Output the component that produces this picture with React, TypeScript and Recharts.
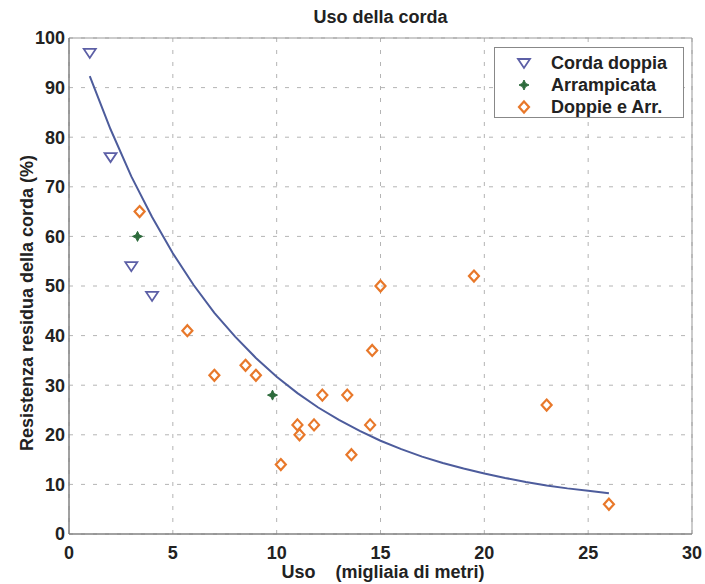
import {
  CartesianGrid,
  ComposedChart,
  Line,
  ReferenceArea,
  Scatter,
  XAxis,
  YAxis,
} from "recharts";

const xTicks = [0, 5, 10, 15, 20, 25, 30];
const yTicks = [0, 10, 20, 30, 40, 50, 60, 70, 80, 90, 100];

// Corda doppia
const doppiaX = [1, 2, 3, 4];
const doppiaY = [97, 76, 54, 48];

// Arrampicata
const arrX = [3.3, 9.8];
const arrY = [60, 28];

// Doppie e Arr.
const entrambiX = [3.4, 5.7, 7, 8.5, 9, 10.2, 11, 11.1, 11.8, 12.2, 13.4, 13.6, 14.5, 14.6, 15, 19.5, 23, 26];
const entrambiY = [65, 41, 32, 34, 32, 14, 22, 20, 22, 28, 28, 16, 22, 37, 50, 52, 26, 6];

// fitted curve
const curveX = [1, 2, 3, 4, 5, 6, 7, 8, 9, 10, 11, 12, 13, 14, 15, 16, 17, 18, 19, 20, 21, 22, 23, 24, 25, 26];
const curveY = [92.3, 81.6, 72.1, 63.9, 56.6, 50.2, 44.6, 39.8, 35.5, 31.7, 28.4, 25.5, 23.0, 20.8, 18.8, 17.1, 15.6, 14.3, 13.2, 12.2, 11.3, 10.5, 9.8, 9.2, 8.7, 8.2];

const zip = (xs: number[], ys: number[]) => xs.map((x, i) => ({ x, y: ys[i] }));

const BLUE = "#5c5fa6";
const GREEN = "#2d6b3c";
const ORANGE = "#e8782a";
const FONT = '"Liberation Sans", Arial, sans-serif';

const Triangle = ({ cx, cy }: any) => (
  <polygon
    points={`${cx - 6},${cy - 4} ${cx + 6},${cy - 4} ${cx},${cy + 5}`}
    fill="none"
    stroke={BLUE}
    strokeWidth={1.8}
  />
);

const Diamond = ({ cx, cy }: any) => (
  <polygon
    points={`${cx},${cy - 5.5} ${cx + 5},${cy} ${cx},${cy + 5.5} ${cx - 5},${cy}`}
    fill="none"
    stroke={ORANGE}
    strokeWidth={2.2}
  />
);

const Star = ({ cx, cy }: any) => (
  <g>
    <polygon
      points={`${cx},${cy - 5} ${cx + 1.6},${cy - 1.6} ${cx + 5},${cy} ${cx + 1.6},${cy + 1.6} ${cx},${cy + 5} ${cx - 1.6},${cy + 1.6} ${cx - 5},${cy} ${cx - 1.6},${cy - 1.6}`}
      fill={GREEN}
      stroke={GREEN}
      strokeWidth={1}
    />
  </g>
);

const tickStyle = { fontSize: 18, fontWeight: 700, fill: "#222", fontFamily: FONT };

export default function App() {
  const legendRows = [
    { name: "Corda doppia", Shape: Triangle },
    { name: "Arrampicata", Shape: Star },
    { name: "Doppie e Arr.", Shape: Diamond },
  ];

  return (
    <div style={{ position: "absolute", left: 0, top: 0, width: 705, height: 584, background: "#fff", fontFamily: FONT }}>
      <ComposedChart width={705} height={584} margin={{ top: 38, right: 13, bottom: 0, left: 0 }}>
        <CartesianGrid stroke="#b4b4b4" strokeDasharray="4 8" />
        <XAxis
          type="number"
          dataKey="x"
          domain={[0, 30]}
          ticks={xTicks}
          height={50}
          tick={tickStyle}
          tickLine={false}
          tickSize={6}
          tickMargin={6}
          axisLine={{ stroke: "#777" }}
          allowDataOverflow
        />
        <YAxis
          type="number"
          dataKey="y"
          domain={[0, 100]}
          ticks={yTicks}
          width={69}
          tick={tickStyle}
          tickLine={false}
          tickSize={4}
          tickMargin={0}
          axisLine={{ stroke: "#777" }}
          allowDataOverflow
        />
        <ReferenceArea x1={0} x2={30} y1={0} y2={100} fill="none" stroke="#999" strokeWidth={1} />
        <Line
          data={zip(curveX, curveY)}
          dataKey="y"
          type="linear"
          stroke="#4d5c9c"
          strokeWidth={2}
          dot={false}
          isAnimationActive={false}
        />
        <Scatter data={zip(doppiaX, doppiaY)} shape={<Triangle />} isAnimationActive={false} />
        <Scatter data={zip(arrX, arrY)} shape={<Star />} isAnimationActive={false} />
        <Scatter data={zip(entrambiX, entrambiY)} shape={<Diamond />} isAnimationActive={false} />
      </ComposedChart>

      <div style={{ position: "absolute", left: 0, width: 761, top: 7, textAlign: "center", fontSize: 18, fontWeight: 700, color: "#222" }}>
        Uso della corda
      </div>

      <div style={{ position: "absolute", left: 0, width: 766, top: 562, textAlign: "center", fontSize: 18, fontWeight: 700, color: "#222", whiteSpace: "pre" }}>
        {"Uso    (migliaia di metri)"}
      </div>

      <div
        style={{
          position: "absolute",
          left: 27,
          top: 303,
          transform: "translate(-50%, -50%) rotate(-90deg)",
          fontSize: 18,
          fontWeight: 700,
          color: "#222",
          whiteSpace: "nowrap",
        }}
      >
        Resistenza residua della corda (%)
      </div>

      <div
        style={{
          position: "absolute",
          left: 494,
          top: 47,
          width: 190,
          height: 71,
          boxSizing: "border-box",
          border: "1px solid #888",
          background: "#fff",
        }}
      >
        {legendRows.map(({ name, Shape }, i) => (
          <div key={name} style={{ position: "absolute", left: 0, top: 4 + i * 22, height: 22, width: 190 }}>
            <svg width={40} height={22} style={{ position: "absolute", left: 9, top: 0 }}>
              <Shape cx={20} cy={11} />
            </svg>
            <span style={{ position: "absolute", left: 56, top: 0, lineHeight: "22px", fontSize: 18, fontWeight: 700, color: "#222", whiteSpace: "nowrap" }}>
              {name}
            </span>
          </div>
        ))}
      </div>
    </div>
  );
}
